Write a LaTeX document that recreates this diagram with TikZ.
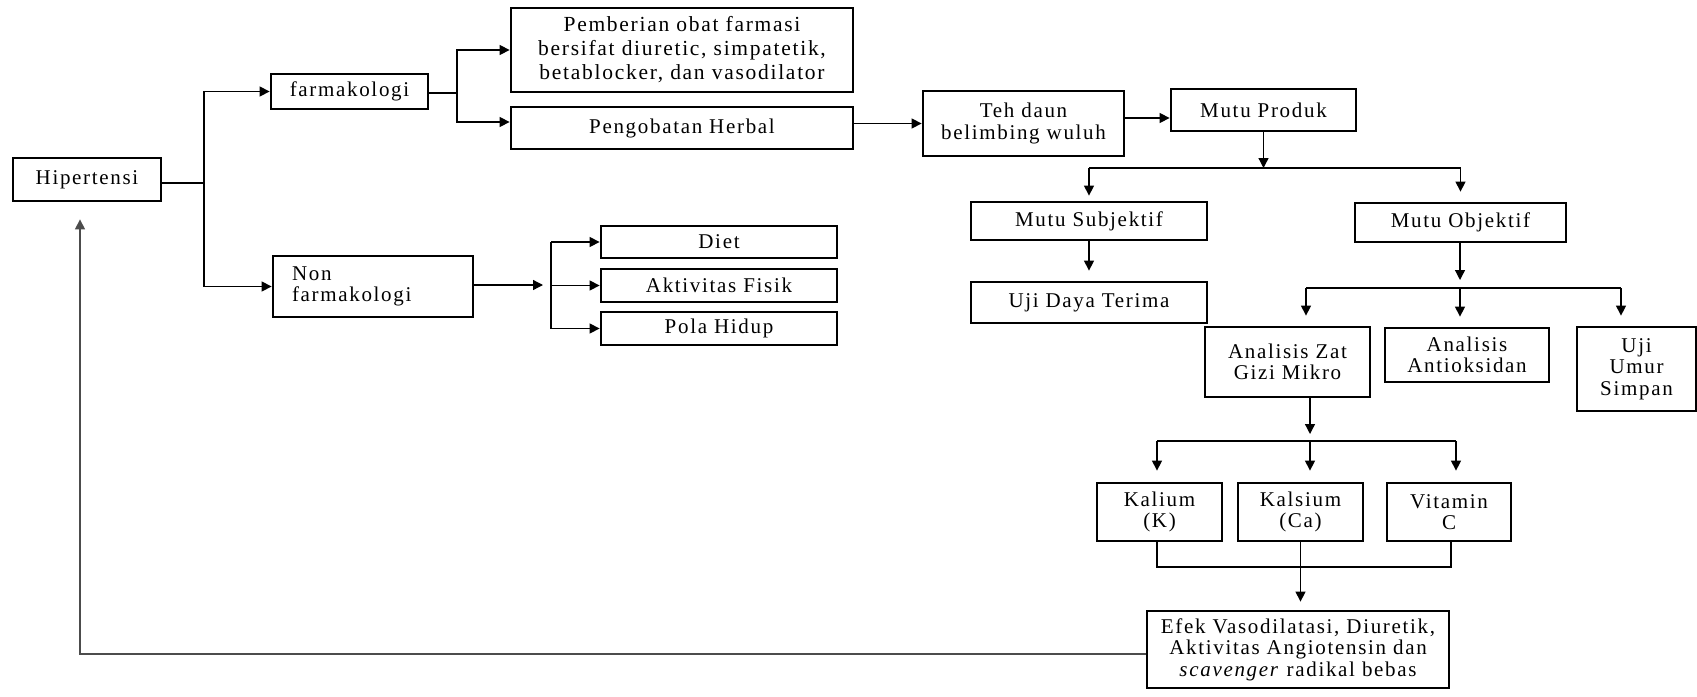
\documentclass[tikz,border=0pt]{standalone}
\usepackage{fontspec}
\setmainfont{Liberation Serif}[LetterSpace=8]
\usetikzlibrary{arrows.meta}

\begin{document}
\begin{tikzpicture}[x=0.5pt, y=-0.5pt, font=\fontsize{10.5}{10.75}\selectfont,
	box/.style = {draw, line width=1.4pt, align=center, inner sep=0pt},
	ln/.style = {line width=0.65pt},
	arr/.style = {line width=0.65pt, -{Triangle[length=5pt, width=5pt]}}]
		\useasboundingbox (0,0) rectangle (1697,696);

		\node[box, minimum width=74pt, minimum height=21.5pt] (hip) at (87,179.5) {Hipertensi};
		\node[box, minimum width=78.5pt, minimum height=17.5pt] (farm) at (349.5,91.5) {farmakologi};
		\node[box, minimum width=100pt, minimum height=30.5pt, inner xsep=9.5pt, text width=81pt, align=left] (nonfarm) at (373,286.5) {Non\\farmakologi};
		\node[box, minimum width=171pt, minimum height=42pt, font=\fontsize{10.75}{12}\selectfont] (obat) at (682,50) {Pemberian obat farmasi\\bersifat diuretic, simpatetik,\\betablocker, dan vasodilator};
		\node[box, minimum width=171pt, minimum height=21pt] (herbal) at (682,128) {Pengobatan Herbal};
		\node[box, minimum width=118pt, minimum height=16pt] (diet) at (719,242) {Diet};
		\node[box, minimum width=118pt, minimum height=16.5pt] (fisik) at (719,285.5) {Aktivitas Fisik};
		\node[box, minimum width=118pt, minimum height=16.5pt] (pola) at (719,328.5) {Pola Hidup};
		\node[box, minimum width=100.5pt, minimum height=32.5pt] (teh) at (1023.5,123.5) {Teh daun\\belimbing wuluh};
		\node[box, minimum width=92.5pt, minimum height=21pt] (produk) at (1263.5,110) {Mutu Produk};
		\node[box, minimum width=118pt, minimum height=19pt] (subj) at (1089,221) {Mutu Subjektif};
		\node[box, minimum width=118pt, minimum height=20.5pt] (terima) at (1089,302.5) {Uji Daya Terima};
		\node[box, minimum width=105.5pt, minimum height=19.5pt] (obj) at (1460.5,222.5) {Mutu Objektif};
		\node[box, minimum width=82.5pt, minimum height=35pt] (zat) at (1287.5,362) {Analisis Zat\\Gizi Mikro};
		\node[box, minimum width=82pt, minimum height=27pt] (anti) at (1467,355) {Analisis\\Antioksidan};
		\node[box, minimum width=59.5pt, minimum height=42pt] (umur) at (1636.5,369) {Uji\\Umur\\Simpan};
		\node[box, minimum width=62.5pt, minimum height=29pt] (kalium) at (1159.5,512) {Kalium\\(K)};
		\node[box, minimum width=62.5pt, minimum height=29pt] (kalsium) at (1300.5,512) {Kalsium\\(Ca)};
		\node[box, minimum width=62pt, minimum height=29pt] (vitc) at (1449,512) {Vitamin\\C};
		\node[box, minimum width=151pt, minimum height=38.5pt] (efek) at (1298,649.5) {Efek Vasodilatasi, Diuretik,\\Aktivitas Angiotensin dan\\\textit{scavenger} radikal bebas};

		\coordinate (s1) at (204,183);
		\coordinate (s2) at (457,93);
		\coordinate (s3) at (551,285);
		\coordinate (s4) at (1263.5,168);
		\coordinate (s5) at (1460,288);
		\coordinate (a1) at (1306,288);
		\coordinate (a3) at (1621,288);
		\coordinate (s6) at (1310,441);
		\coordinate (b1) at (1157,441);
		\coordinate (b3) at (1456,441);
		\coordinate (c1) at (1157,567);
		\coordinate (c3) at (1451,567);
		\coordinate (fb) at (80,654);
		\path ([yshift=2.75pt]teh.east) coordinate (t1);

		\draw[ln] (hip.east |- s1) -- (s1);
		\draw[arr] (s1) |- (farm.west);
		\draw[arr] (s1) |- (nonfarm.west);
		\draw[ln] (farm.east |- s2) -- (s2);
		\draw[arr] (s2) |- (obat.west);
		\draw[arr] (s2) |- ([yshift=3pt]herbal.west);
		\draw[arr] (herbal.east |- teh.west) -- (teh.west);
		\draw[arr] (t1) -- (t1 -| produk.west);

		\draw[arr, shorten >=4pt] (nonfarm.east |- s3) -- (s3);
		\draw[ln] (s3 |- diet.west) -- (s3 |- pola.west);
		\draw[arr] (s3 |- diet.west) -- (diet.west);
		\draw[arr] (s3 |- fisik.west) -- (fisik.west);
		\draw[arr] (s3 |- pola.west) -- (pola.west);

		\draw[arr] (produk.south) -- (s4);
		\draw[ln] (subj.north |- s4) -- (obj.north |- s4);
		\draw[arr, shorten >=2.5pt] (subj.north |- s4) -- (subj.north);
		\draw[arr, shorten >=5pt] (obj.north |- s4) -- (obj.north);
		\draw[arr, shorten >=5pt] (subj) -- (terima);

		\draw[arr, shorten >=4pt] (obj.south -| s5) -- (s5);
		\draw[ln] (a1) -- (a3);
		\draw[arr, shorten >=5pt] (a1) -- (a1 |- zat.north);
		\draw[arr, shorten >=5pt] (s5) -- (s5 |- anti.north);
		\draw[arr, shorten >=5pt] (a3) -- (a3 |- umur.north);

		\draw[arr, shorten >=3.5pt] (zat.south -| s6) -- (s6);
		\draw[ln] (b1) -- (b3);
		\draw[arr, shorten >=5.5pt] (b1) -- (b1 |- kalium.north);
		\draw[arr, shorten >=5.5pt] (s6) -- (s6 |- kalsium.north);
		\draw[arr, shorten >=5.5pt] (b3) -- (b3 |- vitc.north);

		\draw[ln] (kalium.south -| c1) -- (c1) -- (c3) -- (vitc.south -| c3);
		\draw[arr, shorten >=4pt] (kalsium.south) -- (kalsium.south |- efek.north);
		\draw[arr, draw=black!70, shorten >=8.5pt] (efek.west |- fb) -- (fb) -- (fb |- hip.south);
	\end{tikzpicture}
\end{document}
